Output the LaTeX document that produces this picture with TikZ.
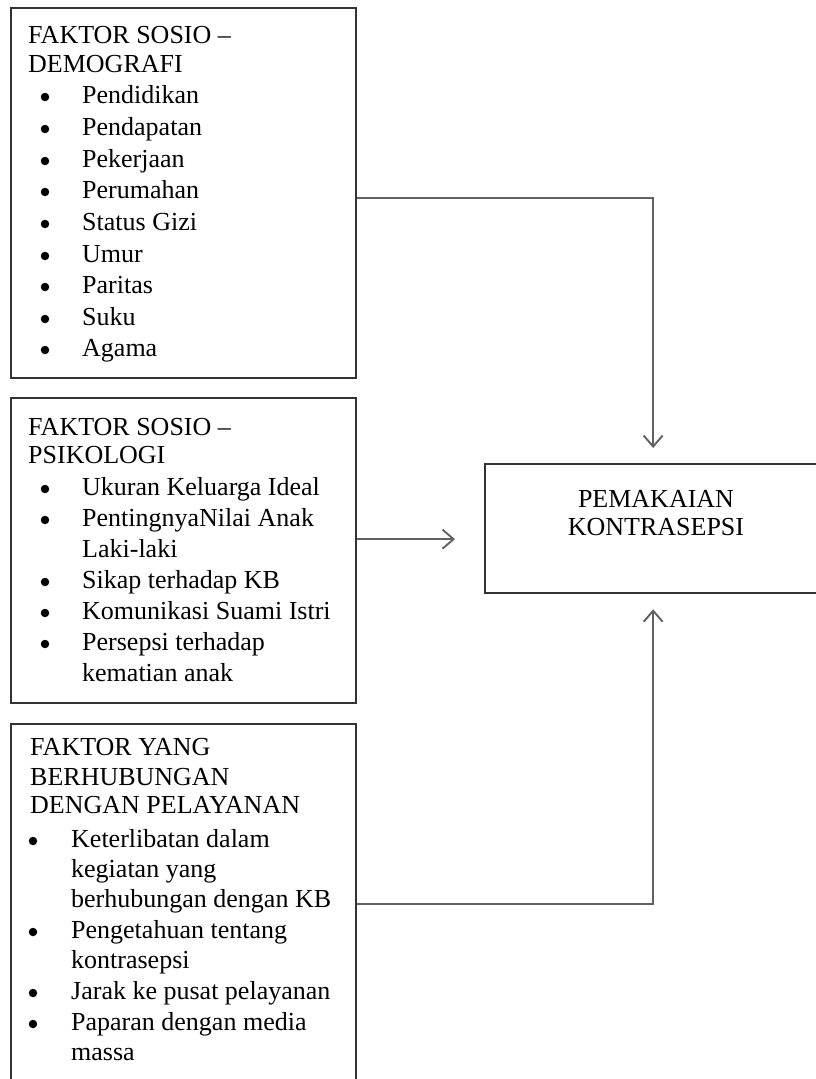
\documentclass[tikz,border=0pt]{standalone}
\usepackage{fontspec}
\setmainfont{Liberation Serif}
\usetikzlibrary{arrows.meta}
\begin{document}
\begin{tikzpicture}[x=1pt,y=-1pt,
  box/.style={draw=black!80, line width=2.3pt, inner sep=0pt, anchor=north west},
  conn/.style={draw=black!62, line width=1.9pt, -{Straight Barb[length=11pt,width=19pt,line width=1.9pt]}},
  txt/.style={anchor=base west, inner sep=0pt, text=black, font=\fontsize{26}{30}\selectfont},
  bul/.style={circle, fill=black, inner sep=0pt, minimum size=8.5pt, yshift=6pt},
  ctxt/.style={anchor=base, inner sep=0pt, text=black, font=\fontsize{26}{30}\selectfont}]
\useasboundingbox[fill=white] (0,0) rectangle (815,1079);

% boxes
\node[box, minimum width=345pt, minimum height=370pt] (b1) at (10,7) {};
\node[box, minimum width=345pt, minimum height=305pt] (b2) at (10,397) {};
\node[box, minimum width=345pt, minimum height=377pt] (b3) at (10,723) {};
\node[box, minimum width=344pt, minimum height=129pt] (tgt) at (484,463) {};

% box 1
\node[txt] (h1a) at (28,43) {FAKTOR SOSIO –};
\node[txt] (h1b) at (28,72) {DEMOGRAFI};
\node[bul] (p1a) at (45,103) {}; \node[txt] (t1a) at (82,103) {Pendidikan};
\node[bul] (p1b) at (45,135) {}; \node[txt] (t1b) at (82,135) {Pendapatan};
\node[bul] (p1c) at (45,167) {}; \node[txt] (t1c) at (82,167) {Pekerjaan};
\node[bul] (p1d) at (45,198) {}; \node[txt] (t1d) at (82,198) {Perumahan};
\node[bul] (p1e) at (45,230) {}; \node[txt] (t1e) at (82,230) {Status Gizi};
\node[bul] (p1f) at (45,262) {}; \node[txt] (t1f) at (82,262) {Umur};
\node[bul] (p1g) at (45,293) {}; \node[txt] (t1g) at (82,293) {Paritas};
\node[bul] (p1h) at (45,325) {}; \node[txt] (t1h) at (82,325) {Suku};
\node[bul] (p1i) at (45,356) {}; \node[txt] (t1i) at (82,356) {Agama};

% box 2
\node[txt] (h2a) at (28,435) {FAKTOR SOSIO –};
\node[txt] (h2b) at (28,463) {PSIKOLOGI};
\node[bul] (p2a) at (45,495) {}; \node[txt] (t2a) at (82,495) {Ukuran Keluarga Ideal};
\node[bul] (p2b) at (45,526) {}; \node[txt] (t2b) at (82,526) {PentingnyaNilai Anak};
\node[txt] (t2c) at (82,557) {Laki-laki};
\node[bul] (p2d) at (45,588) {}; \node[txt] (t2d) at (82,588) {Sikap terhadap KB};
\node[bul] (p2e) at (45,619) {}; \node[txt] (t2e) at (82,619) {Komunikasi Suami Istri};
\node[bul] (p2f) at (45,650) {}; \node[txt] (t2f) at (82,650) {Persepsi terhadap};
\node[txt] (t2g) at (82,681) {kematian anak};

% box 3
\node[txt] (h3a) at (30,755) {FAKTOR YANG};
\node[txt] (h3b) at (30,785) {BERHUBUNGAN};
\node[txt] (h3c) at (30,813) {DENGAN PELAYANAN};
\node[bul] (p3a) at (33,847) {}; \node[txt] (t3a) at (71,847) {Keterlibatan dalam};
\node[txt] (t3b) at (71,877) {kegiatan yang};
\node[txt] (t3c) at (71,907) {berhubungan dengan KB};
\node[bul] (p3d) at (33,938) {}; \node[txt] (t3d) at (71,938) {Pengetahuan tentang};
\node[txt] (t3e) at (71,968) {kontrasepsi};
\node[bul] (p3f) at (33,999) {}; \node[txt] (t3f) at (71,999) {Jarak ke pusat pelayanan};
\node[bul] (p3g) at (33,1030) {}; \node[txt] (t3g) at (71,1030) {Paparan dengan media};
\node[txt] (t3h) at (71,1060) {massa};

% target text
\node[ctxt] (tg1) at (656,507) {PEMAKAIAN};
\node[ctxt] (tg2) at (656,535) {KONTRASEPSI};

% connectors
\draw[conn] ([yshift=-5pt]b1.east) -| ([xshift=-4pt,yshift=15pt]tgt.north);
\draw[conn] ([yshift=11.5pt]b2.east) -- ([xshift=-29pt,yshift=-10.5pt]tgt.west);
\draw[conn] ([yshift=8.5pt]b3.east) -| ([xshift=-4pt,yshift=-15pt]tgt.south);
\end{tikzpicture}
\end{document}
